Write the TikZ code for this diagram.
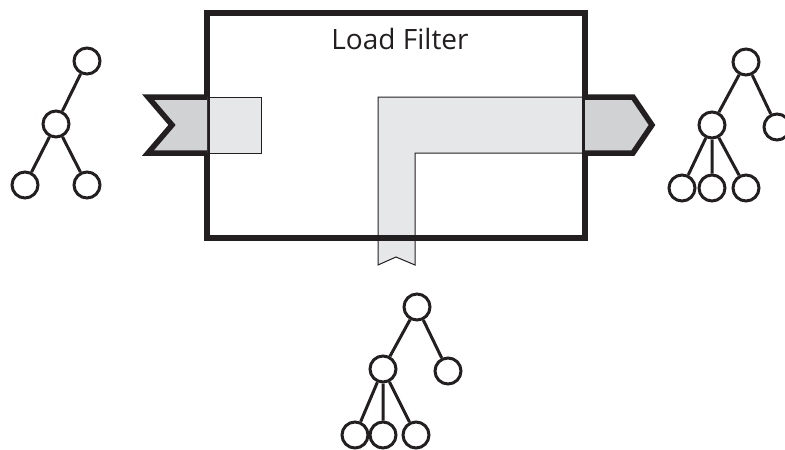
\documentclass[tikz,border=0pt]{standalone}
\usepackage{fontspec}
\setmainfont{Open Sans}
\definecolor{arrowgray}{HTML}{D1D2D4}
\definecolor{lightgray}{HTML}{E6E7E8}
\definecolor{edgegray}{HTML}{231F20}
\begin{document}
\begin{tikzpicture}[x=1pt,y=-1pt,
  vertex/.style={circle,draw=edgegray,line width=3pt,minimum size=26pt,inner sep=0pt,fill=white},
  treeedge/.style={line width=3pt,draw=edgegray},
  thickline/.style={line width=5.5pt,line join=miter,draw=edgegray},
  lightpart/.style={fill=lightgray,draw=edgegray,line width=1pt}]
\useasboundingbox (0,0) rectangle (785,450);
% box background
\fill[white] (207,13) rectangle (585,238);
% input light part
\draw[lightpart] (207,97) rectangle (261,153);
% L-shaped part
\draw[lightpart] (378,265) -- (378,97) -- (585,97) -- (585,153) -- (415,153) -- (415,265) -- (396,257) -- cycle;
% box border
\node[draw=edgegray,line width=5.5pt,minimum width=378pt,minimum height=225pt,inner sep=0pt] (box) at (396,125.5) {};
\node[font=\fontsize{28}{32}\selectfont,text=edgegray] (title) at (400,39) {Load Filter};
% left arrow
\fill[arrowgray] (207,97) -- (148,97) -- (172,125) -- (148,153) -- (207,153) -- cycle;
\draw[thickline] (207,97) -- (148,97) -- (172,125) -- (148,153) -- (207,153);
% right arrow
\fill[arrowgray] (585,97) -- (633,97) -- (652,125) -- (633,153) -- (585,153) -- cycle;
\draw[thickline] (585,97) -- (633,97) -- (652,125) -- (633,153) -- (585,153);
% left tree
\node[vertex] (l1) at (87,61) {};
\node[vertex] (l2) at (56,124) {};
\node[vertex] (l3) at (25,185) {};
\node[vertex] (l4) at (87,185) {};
\draw[treeedge] (l1) -- (l2) (l2) -- (l3) (l2) -- (l4);
% right tree
\node[vertex] (r1) at (746,62) {};
\node[vertex] (r2) at (712,125) {};
\node[vertex] (r3) at (777,127) {};
\node[vertex] (r4) at (682,188) {};
\node[vertex] (r5) at (712,188) {};
\node[vertex] (r6) at (746,188) {};
\draw[treeedge] (r1) -- (r2) (r1) -- (r3) (r2) -- (r4) (r2) -- (r5) (r2) -- (r6);
% bottom tree
\node[vertex] (b1) at (417,307) {};
\node[vertex] (b2) at (383,369) {};
\node[vertex] (b3) at (448,371) {};
\node[vertex] (b4) at (355,435) {};
\node[vertex] (b5) at (383,435) {};
\node[vertex] (b6) at (416,435) {};
\draw[treeedge] (b1) -- (b2) (b1) -- (b3) (b2) -- (b4) (b2) -- (b5) (b2) -- (b6);
\end{tikzpicture}
\end{document}
